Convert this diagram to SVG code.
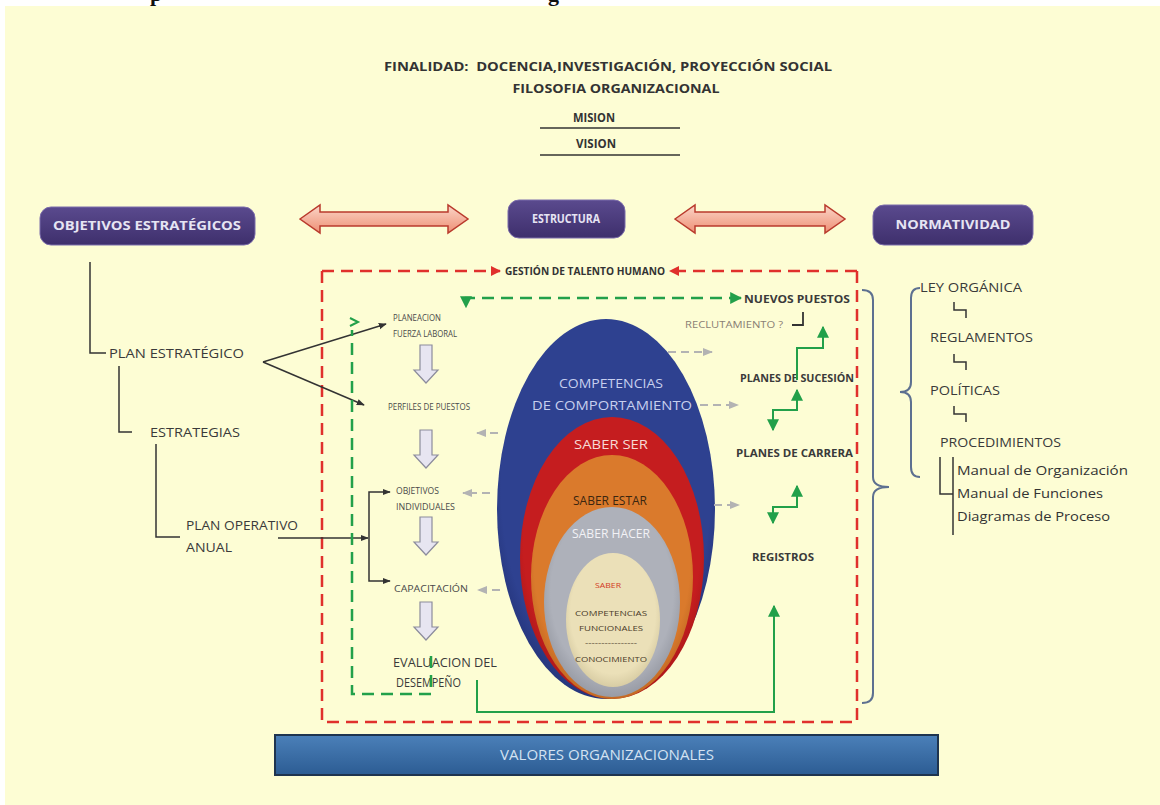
<svg xmlns="http://www.w3.org/2000/svg" width="1160" height="805" viewBox="0 0 1160 805">
  <style>
    .hdr { font-family: "Open Sans", "Liberation Sans", sans-serif; font-weight: bold; font-size: 13px; fill: #333333; }
    .pill { font-family: "Open Sans", "Liberation Sans", sans-serif; font-weight: bold; font-size: 12px; fill: #e6e4f3; }
    .tree { font-family: "Open Sans", "Liberation Sans", sans-serif; font-size: 13px; fill: #3a3a3a; }
    .step { font-family: "Open Sans", "Liberation Sans", sans-serif; font-size: 9px; fill: #4a4a4a; }
    .right { font-family: "Open Sans", "Liberation Sans", sans-serif; font-weight: bold; font-size: 10px; fill: #3a3a3a; }
    .core { font-family: "Open Sans", "Liberation Sans", sans-serif; font-size: 13px; }
    .small { font-family: "Open Sans", "Liberation Sans", sans-serif; font-size: 8px; }
    .norm { font-family: "Open Sans", "Liberation Sans", sans-serif; font-size: 13px; fill: #3a3a3a; }
    .man { font-family: "Open Sans", "Liberation Sans", sans-serif; font-size: 13px; fill: #333333; }
    .blk { stroke: #333333; stroke-width: 1.5; fill: none; }
    .grn { stroke: #22a04a; stroke-width: 2; fill: none; }
    .grnd { stroke: #22a04a; stroke-width: 2.5; fill: none; stroke-dasharray: 12 7; }
    .gry { stroke: #b3b3b3; stroke-width: 2; fill: none; stroke-dasharray: 8 5; }
    .red { stroke: #e0302c; stroke-width: 2.5; fill: none; stroke-dasharray: 12 7; }
    .brace { stroke: #5d7090; stroke-width: 2; fill: none; }
    .down { fill: #e7e5f1; stroke: #8c8c9c; stroke-width: 1.2; }
    .dbl { fill: url(#salmon); stroke: #b93a2c; stroke-width: 1.5; }
  </style>
  <defs>
    <linearGradient id="purple" x1="0" y1="0" x2="0" y2="1">
      <stop offset="0" stop-color="#5a4a8e"/>
      <stop offset="1" stop-color="#3e2f6c"/>
    </linearGradient>
    <linearGradient id="salmon" x1="0" y1="0" x2="0" y2="1">
      <stop offset="0" stop-color="#fbd6c8"/>
      <stop offset="1" stop-color="#ee8f74"/>
    </linearGradient>
    <linearGradient id="bar" x1="0" y1="0" x2="0" y2="1">
      <stop offset="0" stop-color="#4b80b9"/>
      <stop offset="1" stop-color="#2c5c93"/>
    </linearGradient>
    <radialGradient id="gBlue" cx="0.5" cy="0.45" r="0.6">
      <stop offset="0.8" stop-color="#2e4190"/>
      <stop offset="1" stop-color="#1f2d6e"/>
    </radialGradient>
    <radialGradient id="gRed" cx="0.5" cy="0.45" r="0.6">
      <stop offset="0.8" stop-color="#c51d1f"/>
      <stop offset="1" stop-color="#9c1416"/>
    </radialGradient>
    <radialGradient id="gOrange" cx="0.5" cy="0.45" r="0.6">
      <stop offset="0.8" stop-color="#da7a2c"/>
      <stop offset="1" stop-color="#b45e1c"/>
    </radialGradient>
    <radialGradient id="gGray" cx="0.5" cy="0.45" r="0.6">
      <stop offset="0.75" stop-color="#aeb1ba"/>
      <stop offset="1" stop-color="#8d909a"/>
    </radialGradient>
    <radialGradient id="gBeige" cx="0.5" cy="0.45" r="0.6">
      <stop offset="0.75" stop-color="#ebe0b8"/>
      <stop offset="1" stop-color="#cfc39a"/>
    </radialGradient>
    <marker id="aBlk" viewBox="0 0 10 10" refX="9" refY="5" markerWidth="8" markerHeight="8" markerUnits="userSpaceOnUse" orient="auto-start-reverse">
      <path d="M0,1 L10,5 L0,9 z" fill="#333333"/>
    </marker>
    <marker id="aGrn" viewBox="0 0 10 10" refX="9" refY="5" markerWidth="12" markerHeight="12" markerUnits="userSpaceOnUse" orient="auto-start-reverse">
      <path d="M0,0 L10,5 L0,10 z" fill="#22a04a"/>
    </marker>
    <marker id="aGry" viewBox="0 0 10 10" refX="9" refY="5" markerWidth="10" markerHeight="10" markerUnits="userSpaceOnUse" orient="auto-start-reverse">
      <path d="M0,1 L10,5 L0,9 z" fill="#b3b3b3"/>
    </marker>
    <marker id="aRed" viewBox="0 0 10 10" refX="9" refY="5" markerWidth="10" markerHeight="10" markerUnits="userSpaceOnUse" orient="auto-start-reverse">
      <path d="M0,0 L10,5 L0,10 z" fill="#e0302c"/>
    </marker>
    <path id="downArrow" d="M-6,0 H6 V25 H12 L0,38 L-12,25 H-6 Z"/>
  </defs>

  <!-- page -->
  <rect x="0" y="0" width="1160" height="805" fill="#ffffff"/>
  <text x="150" y="1" style="font-family:'Liberation Serif',serif;font-weight:bold;font-size:22px;fill:#111">p</text>
  <text x="548" y="1" style="font-family:'Liberation Serif',serif;font-weight:bold;font-size:22px;fill:#111">g</text>
  <rect x="5" y="6" width="1155" height="799" fill="#fdfdd4"/>

  <!-- heading -->
  <g id="header">
    <text class="hdr" x="608" y="71" text-anchor="middle" textLength="448" lengthAdjust="spacingAndGlyphs">FINALIDAD:&#160; DOCENCIA,INVESTIGACIÓN, PROYECCIÓN SOCIAL</text>
    <text class="hdr" x="616" y="93" text-anchor="middle" textLength="207" lengthAdjust="spacingAndGlyphs">FILOSOFIA ORGANIZACIONAL</text>
    <text class="hdr" x="594" y="122" text-anchor="middle" textLength="42" lengthAdjust="spacingAndGlyphs">MISION</text>
    <line x1="540" y1="128" x2="680" y2="128" stroke="#333" stroke-width="1.5"/>
    <text class="hdr" x="596" y="148" text-anchor="middle" textLength="40" lengthAdjust="spacingAndGlyphs">VISION</text>
    <line x1="540" y1="155" x2="680" y2="155" stroke="#333" stroke-width="1.5"/>
  </g>

  <!-- top pillars -->
  <g id="objetivos">
    <rect x="40" y="207" width="215" height="38" rx="11" fill="url(#purple)" stroke="#7b6cab" stroke-width="1"/>
    <text class="pill" x="147" y="230" text-anchor="middle" textLength="188" lengthAdjust="spacingAndGlyphs">OBJETIVOS ESTRATÉGICOS</text>
  </g>
  <g id="estructura">
    <rect x="508" y="200" width="117" height="38" rx="11" fill="url(#purple)" stroke="#7b6cab" stroke-width="1"/>
    <text class="pill" x="566" y="223" text-anchor="middle" textLength="68" lengthAdjust="spacingAndGlyphs">ESTRUCTURA</text>
  </g>
  <g id="normatividad">
    <rect x="873" y="205" width="160" height="40" rx="11" fill="url(#purple)" stroke="#7b6cab" stroke-width="1"/>
    <text class="pill" x="953" y="229" text-anchor="middle" textLength="115" lengthAdjust="spacingAndGlyphs">NORMATIVIDAD</text>
  </g>
  <g id="links-top">
    <polygon class="dbl" points="300,219 320,205 320,212 448,212 448,205 468,219 448,233 448,226 320,226 320,233"/>
    <polygon class="dbl" points="675,219 695,205 695,212 825,212 825,205 845,219 825,233 825,226 695,226 695,233"/>
  </g>

  <!-- left planning tree -->
  <g id="plan-estrategico">
    <text class="tree" x="109" y="358" textLength="135" lengthAdjust="spacingAndGlyphs">PLAN ESTRATÉGICO</text>
  </g>
  <g id="estrategias">
    <text class="tree" x="150" y="437" textLength="90" lengthAdjust="spacingAndGlyphs">ESTRATEGIAS</text>
  </g>
  <g id="plan-operativo">
    <text class="tree" x="186" y="530" textLength="112" lengthAdjust="spacingAndGlyphs">PLAN OPERATIVO</text>
    <text class="tree" x="186" y="552" textLength="46" lengthAdjust="spacingAndGlyphs">ANUAL</text>
  </g>

  <!-- talent management frame -->
  <g id="gestion">
    <path class="red" d="M322,271 V722 H857 V271"/>
    <path class="red" d="M322,271 H500" marker-end="url(#aRed)"/>
    <path class="red" d="M857,271 H670" marker-end="url(#aRed)"/>
    <text x="585" y="275" text-anchor="middle" textLength="160" lengthAdjust="spacingAndGlyphs" style="font-family:'Open Sans','Liberation Sans',sans-serif;font-weight:bold;font-size:10px;fill:#333">GESTIÓN DE TALENTO HUMANO</text>
  </g>

  <!-- process column -->
  <g id="planeacion">
    <text class="step" x="393" y="321" textLength="48" lengthAdjust="spacingAndGlyphs">PLANEACION</text>
    <text class="step" x="393" y="337" textLength="64" lengthAdjust="spacingAndGlyphs">FUERZA LABORAL</text>
  </g>
  <g id="perfiles">
    <text class="step" x="388" y="410" textLength="82" lengthAdjust="spacingAndGlyphs">PERFILES DE PUESTOS</text>
  </g>
  <g id="objetivos-ind">
    <text class="step" x="396" y="494" textLength="43" lengthAdjust="spacingAndGlyphs">OBJETIVOS</text>
    <text class="step" x="396" y="510" textLength="59" lengthAdjust="spacingAndGlyphs">INDIVIDUALES</text>
  </g>
  <g id="capacitacion">
    <text class="step" x="394" y="592" textLength="74" lengthAdjust="spacingAndGlyphs">CAPACITACIÓN</text>
  </g>
  <g id="evaluacion">
    <text class="right" x="393" y="667" textLength="104" lengthAdjust="spacingAndGlyphs" style="font-weight:normal;font-size:12px">EVALUACION DEL</text>
    <text class="right" x="396" y="687" textLength="65" lengthAdjust="spacingAndGlyphs" style="font-weight:normal;font-size:12px">DESEMPEÑO</text>
  </g>
  <g id="flow-arrows">
    <use href="#downArrow" class="down" x="426" y="345"/>
    <use href="#downArrow" class="down" x="426" y="430"/>
    <use href="#downArrow" class="down" x="426" y="517"/>
    <use href="#downArrow" class="down" x="426" y="602"/>
  </g>

  <!-- competencies -->
  <g id="competencias">
    <ellipse cx="606" cy="509" rx="109" ry="190" fill="url(#gBlue)"/>
    <ellipse cx="612" cy="558" rx="92" ry="141" fill="url(#gRed)"/>
    <ellipse cx="612" cy="577" rx="81" ry="122" fill="url(#gOrange)"/>
    <ellipse cx="612" cy="602" rx="68" ry="95" fill="url(#gGray)"/>
    <ellipse cx="613" cy="620" rx="47" ry="67" fill="url(#gBeige)"/>
    <text class="core" x="611" y="388" text-anchor="middle" textLength="104" lengthAdjust="spacingAndGlyphs" fill="#c7cfee">COMPETENCIAS</text>
    <text class="core" x="612" y="410" text-anchor="middle" textLength="160" lengthAdjust="spacingAndGlyphs" fill="#c7cfee">DE COMPORTAMIENTO</text>
    <text class="core" x="611" y="449" text-anchor="middle" textLength="74" lengthAdjust="spacingAndGlyphs" fill="#f7d9d4">SABER SER</text>
    <text class="core" x="610" y="505" text-anchor="middle" textLength="74" lengthAdjust="spacingAndGlyphs" fill="#3b2610" style="font-size:12px">SABER ESTAR</text>
    <text class="core" x="611" y="538" text-anchor="middle" textLength="78" lengthAdjust="spacingAndGlyphs" fill="#f2f2f6" style="font-size:12px">SABER HACER</text>
    <text class="small" x="608" y="588" text-anchor="middle" textLength="26" lengthAdjust="spacingAndGlyphs" fill="#d23a24">SABER</text>
    <text class="small" x="611" y="616" text-anchor="middle" textLength="72" lengthAdjust="spacingAndGlyphs" fill="#4a3a28">COMPETENCIAS</text>
    <text class="small" x="611" y="631" text-anchor="middle" textLength="64" lengthAdjust="spacingAndGlyphs" fill="#4a3a28">FUNCIONALES</text>
    <text class="small" x="611" y="645" text-anchor="middle" textLength="52" lengthAdjust="spacingAndGlyphs" fill="#4a3a28">----------------</text>
    <text class="small" x="611" y="662" text-anchor="middle" textLength="72" lengthAdjust="spacingAndGlyphs" fill="#4a3a28">CONOCIMIENTO</text>
  </g>

  <!-- career outcomes -->
  <g id="nuevos-puestos">
    <text class="right" x="744" y="303" textLength="106" lengthAdjust="spacingAndGlyphs">NUEVOS PUESTOS</text>
  </g>
  <g id="reclutamiento">
    <text class="step" x="685" y="328" textLength="98" lengthAdjust="spacingAndGlyphs" style="fill:#8a7f74">RECLUTAMIENTO ?</text>
    <path d="M792,325 H803 V312" stroke="#333" stroke-width="1.8" fill="none"/>
  </g>
  <g id="sucesion">
    <text class="right" x="740" y="382" textLength="114" lengthAdjust="spacingAndGlyphs">PLANES DE SUCESIÓN</text>
  </g>
  <g id="carrera">
    <text class="right" x="736" y="457" textLength="117" lengthAdjust="spacingAndGlyphs">PLANES DE CARRERA</text>
  </g>
  <g id="registros">
    <text class="right" x="752" y="561" textLength="62" lengthAdjust="spacingAndGlyphs">REGISTROS</text>
  </g>

  <!-- regulatory hierarchy -->
  <g id="normas">
    <text class="norm" x="920" y="292" textLength="102" lengthAdjust="spacingAndGlyphs">LEY ORGÁNICA</text>
    <text class="norm" x="930" y="342" textLength="103" lengthAdjust="spacingAndGlyphs">REGLAMENTOS</text>
    <text class="norm" x="930" y="395" textLength="70" lengthAdjust="spacingAndGlyphs">POLÍTICAS</text>
    <text class="norm" x="940" y="447" textLength="121" lengthAdjust="spacingAndGlyphs">PROCEDIMIENTOS</text>
    <text class="man" x="957" y="475" textLength="171" lengthAdjust="spacingAndGlyphs">Manual de Organización</text>
    <text class="man" x="957" y="498" textLength="146" lengthAdjust="spacingAndGlyphs">Manual de Funciones</text>
    <text class="man" x="957" y="521" textLength="153" lengthAdjust="spacingAndGlyphs">Diagramas de Proceso</text>
  </g>

  <!-- values base -->
  <g id="valores">
    <rect x="275" y="735" width="663" height="40" fill="url(#bar)" stroke="#1e344f" stroke-width="2"/>
    <text x="607" y="760" text-anchor="middle" textLength="214" lengthAdjust="spacingAndGlyphs" style="font-family:'Open Sans','Liberation Sans',sans-serif;font-size:14px;fill:#d3e2f2">VALORES ORGANIZACIONALES</text>
  </g>

  <!-- connectors -->
  <g id="connectors">
    <!-- tree links -->
    <path class="blk" d="M90,262 V353 H106"/>
    <path class="blk" d="M119,366 V432 H132"/>
    <path class="blk" d="M156,444 V537 H180"/>
    <path class="blk" d="M263,362 L386,324" marker-end="url(#aBlk)"/>
    <path class="blk" d="M263,362 L364,405" marker-end="url(#aBlk)"/>
    <path class="blk" d="M278,538 H368" marker-end="url(#aBlk)"/>
    <path class="blk" d="M390,492 H369 V581 H390" marker-start="url(#aBlk)" marker-end="url(#aBlk)"/>

    <!-- green feedback loops -->
    <path class="grnd" d="M741,298 H466 V307" marker-start="url(#aGrn)" marker-end="url(#aGrn)"/>
    <path class="grnd" d="M431,656 V694 H352 V330"/>
    <path d="M350,318 L358,322 L350,326" stroke="#22a04a" stroke-width="2" fill="none"/>
    <path class="grn" d="M477,680 V712 H774 V606" marker-end="url(#aGrn)"/>
    <path class="grn" d="M797,380 V348 H823 V327" marker-end="url(#aGrn)"/>
    <path class="grn" d="M773,430 V410 H797 V390" marker-start="url(#aGrn)" marker-end="url(#aGrn)"/>
    <path class="grn" d="M773,523 V507 H797 V486" marker-start="url(#aGrn)" marker-end="url(#aGrn)"/>

    <!-- competencies feed the process -->
    <path class="gry" d="M668,352 H712" marker-end="url(#aGry)"/>
    <path class="gry" d="M700,405 H738" marker-end="url(#aGry)"/>
    <path class="gry" d="M714,505 H739" marker-end="url(#aGry)"/>
    <path class="gry" d="M498,433 H477" marker-end="url(#aGry)"/>
    <path class="gry" d="M490,493 H463" marker-end="url(#aGry)"/>
    <path class="gry" d="M500,590 H478" marker-end="url(#aGry)"/>

    <!-- braces -->
    <path class="brace" d="M862,290 Q873,290 873,300 V477 Q873,487 889,487 Q873,487 873,497 V693 Q873,703 862,703"/>
    <path class="brace" d="M920,288 Q911,288 911,298 V382 Q911,392 900,392 Q911,392 911,402 V467 Q911,477 920,477"/>

    <!-- norm steps -->
    <path d="M954,302 V310 H966 V318" stroke="#333" stroke-width="1.5" fill="none"/>
    <path d="M954,354 V362 H966 V370" stroke="#333" stroke-width="1.5" fill="none"/>
    <path d="M954,406 V414 H966 V422" stroke="#333" stroke-width="1.5" fill="none"/>
    <path d="M940,457 V494 H953" stroke="#333" stroke-width="1.5" fill="none"/>
    <path d="M953,457 V535" stroke="#333" stroke-width="1.5" fill="none"/>
  </g>
</svg>
